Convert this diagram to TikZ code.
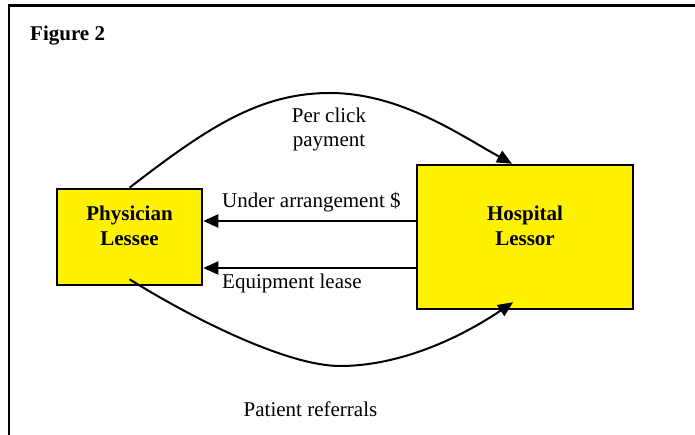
\documentclass[tikz,border=0pt]{standalone}
\usepackage{fontspec}
\setmainfont{Liberation Serif}
\usetikzlibrary{arrows.meta}
\begin{document}
\begin{tikzpicture}[x=1pt,y=-1pt,
  every node/.style={font=\fontsize{21}{24.5}\selectfont, inner sep=0pt},
  party/.style={draw=black, line width=2.5pt, fill=yellow, minimum width=#1},
  partytext/.style={align=center, anchor=north, font=\fontsize{21}{25}\selectfont\bfseries},
  flow/.style={line width=2pt, -{Triangle[length=15pt,width=13pt]}},
  caption/.style={anchor=base west}]
  % page area and outer frame
  \clip (0,0) rectangle (695,435);
  \draw[line width=2.4pt] (9,5.5) rectangle (705,445);

  % the two parties
  \node[party=145pt, minimum height=96pt] (phys) at (129.5,237) {};
  \node[party=216pt, minimum height=144pt] (hosp) at (525,237) {};
  \node[partytext] (physlbl) at (129.5,205.5) {Physician\\Lessee};
  \node[partytext] (hosplbl) at (525,205.5) {Hospital\\Lessor};

  % heading
  \node[caption, font=\fontsize{21}{24}\selectfont\bfseries] (fig) at (30,41) {Figure 2};

  % straight flows from hospital to physician
  \coordinate (ua) at (hosp.west |- 0,221);
  \coordinate (eq) at (hosp.west |- 0,268);
  \draw[flow] (ua) -- (ua -| phys.east);
  \draw[flow] (eq) -- (eq -| phys.east);
  \node[caption] (ualbl) at (222,208) {Under arrangement \$};
  \node[caption] (eqlbl) at (222,288) {Equipment lease};

  % curved flows from physician to hospital
  \coordinate (topstart) at (phys.north);
  \coordinate (topend) at ([xshift=-13pt]hosp.north);
  \draw[flow] (topstart) .. controls (208,127) and (260,93) .. (330,93)
                         .. controls (400,93) and (460,135) .. (topend);
  \coordinate (botstart) at ([yshift=7pt]phys.south);
  \coordinate (botend) at ([xshift=-12pt,yshift=8pt]hosp.south);
  \draw[flow] (botstart) .. controls (200,323) and (290,366) .. (340,366)
                         .. controls (400,366) and (460,338) .. (botend);

  % the last line of a multi-line node sits on its base anchor
  \node[align=center, anchor=base] (pclbl) at (329,147) {Per click\\payment};
  \node[anchor=base] (prlbl) at (310.5,416) {Patient referrals};
\end{tikzpicture}
\end{document}
